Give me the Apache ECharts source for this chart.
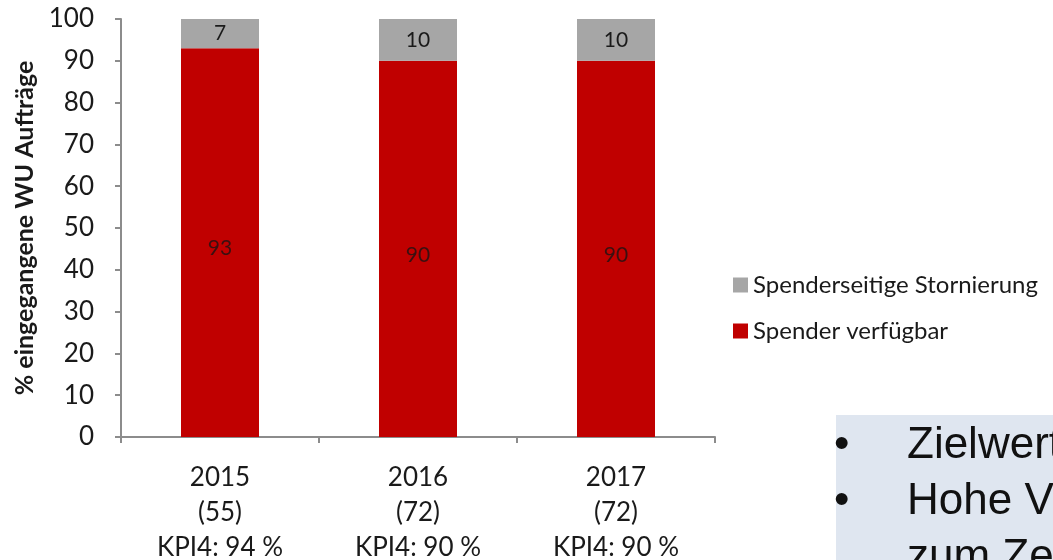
<!DOCTYPE html>
<html>
  <head>
    <meta charset="UTF-8">
    <script src="https://cdn.jsdelivr.net/npm/echarts@6/dist/echarts.min.js"></script>
    <title>WU Aufträge</title>
  </head>
  <body style="margin:0">
    <div id="main" style="width:1053px;height:560px;"></div>
  </body>
  <script>
var years = ['2015', '2016', '2017'];
var counts = ['55', '72', '72'];
var kpi = ['94', '90', '90'];
var verfuegbar = [93, 90, 90];
var storniert = [7, 10, 10];
var notes = ['Zielwert erreicht', 'Hohe Verfügbarkeit', 'zum Zeitpunkt'];

var chart = echarts.init(document.getElementById('main'));
var font = 'Lato, "Open Sans", sans-serif';
var noteFont = '44px "Liberation Sans", Arial, sans-serif';

var cats = years.map(function (y, i) {
    return y + '\n(' + counts[i] + ')\nKPI4: ' + kpi[i] + ' %';
});

// blue text box bottom right
var graphics = [{
    type: 'rect',
    left: 836,
    top: 415,
    shape: { width: 240, height: 160 },
    style: { fill: '#DFE6F0' }
}];
notes.forEach(function (t, i) {
    var y = 424 + i * 56;
    if (i < 2) {
        graphics.push({ type: 'text', x: 834, y: y,
            style: { text: '•', font: noteFont, fill: '#111' } });
    }
    graphics.push({ type: 'text', x: 907, y: y,
        style: { text: t, font: noteFont, fill: '#111' } });
});

option = {
    animation: false,
    textStyle: { fontFamily: font },
    grid: { left: 121, right: 338, top: 19, height: 418, outerBoundsMode: 'none' },
    legend: {
        orient: 'vertical',
        left: 728,
        top: 268,
        itemWidth: 15,
        itemHeight: 15,
        itemGap: 22,
        icon: 'rect',
        textStyle: { fontSize: 24, color: '#1a1a1a', fontFamily: font },
        data: ['Spenderseitige Stornierung', 'Spender verfügbar']
    },
    xAxis: {
        type: 'category',
        data: cats,
        axisLine: { lineStyle: { color: '#8c8c8c', width: 2 } },
        axisTick: { show: true, length: 6, lineStyle: { color: '#8c8c8c', width: 2 } },
        axisLabel: { fontSize: 26, color: '#1a1a1a', lineHeight: 35, margin: 23 }
    },
    yAxis: {
        type: 'value',
        min: 0,
        max: 100,
        interval: 10,
        name: '% eingegangene WU Aufträge',
        nameLocation: 'middle',
        nameGap: 82,
        nameTextStyle: { fontSize: 25, fontWeight: 'bold', color: '#1a1a1a' },
        splitLine: { show: false },
        axisLine: { show: true, lineStyle: { color: '#8c8c8c', width: 2 } },
        axisTick: { show: true, length: 6, lineStyle: { color: '#8c8c8c', width: 2 } },
        axisLabel: { fontSize: 26, color: '#1a1a1a', margin: 27 }
    },
    series: [
        {
            name: 'Spender verfügbar',
            type: 'bar',
            stack: 'a',
            barWidth: 78,
            itemStyle: { color: '#C00000' },
            label: { show: true, position: 'inside', color: '#3a1010', fontSize: 21, offset: [0, 6] },
            data: verfuegbar
        },
        {
            name: 'Spenderseitige Stornierung',
            type: 'bar',
            stack: 'a',
            barWidth: 78,
            itemStyle: { color: '#A6A6A6' },
            label: { show: true, position: 'inside', color: '#1a1a1a', fontSize: 21 },
            data: storniert
        }
    ],
    graphic: graphics
};

chart.setOption(option);
  </script>
</html>
